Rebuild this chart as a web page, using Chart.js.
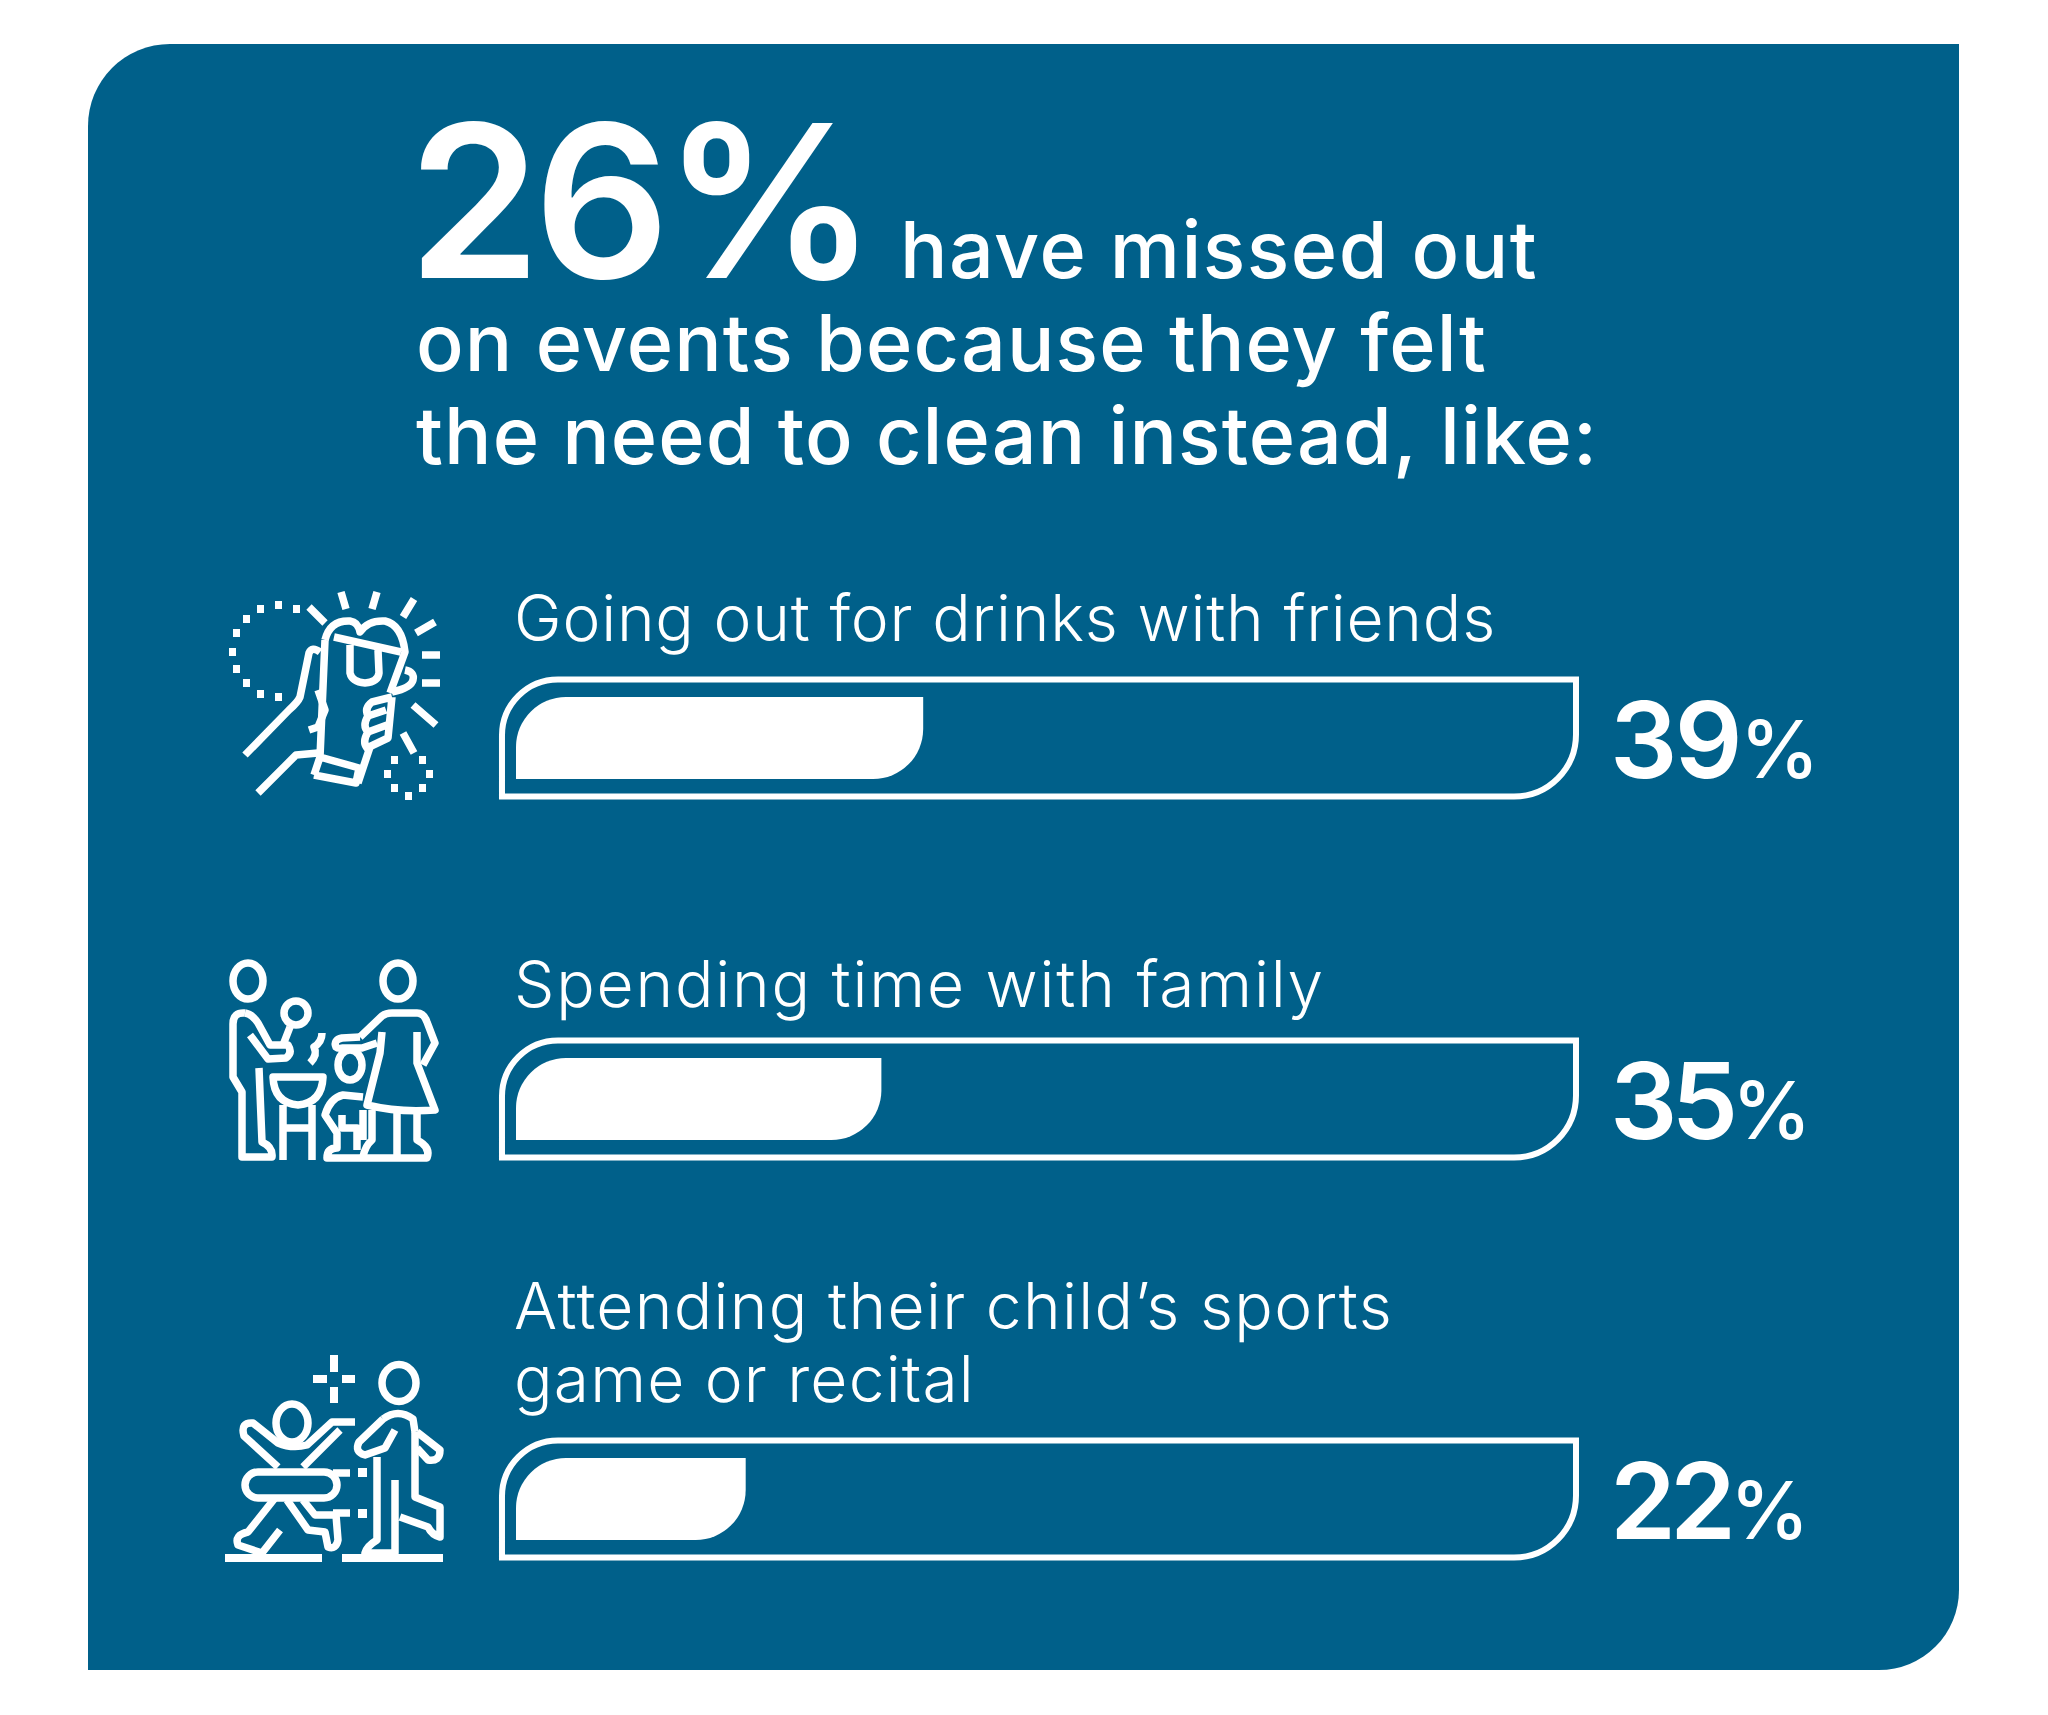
<!DOCTYPE html>
<html>
<head>
<meta charset="utf-8">
<title>Missed events</title>
<script src="https://cdn.jsdelivr.net/npm/chart.js@4"></script>
<style>
    html, body { margin: 0; background: #fff; }
    #page { position: relative; width: 2048px; height: 1715px; overflow: hidden; }
    #panel { position: absolute; left: 88px; top: 44px; width: 1871px; height: 1626px; background: #00608a; border-radius: 82px 0 80px 0; }
    #chart, #icons { position: absolute; left: 0; top: 0; }
    #icons { fill: none; stroke: #fff; stroke-width: 7.5; stroke-linejoin: round; stroke-linecap: butt; }
    #icons .dot { fill: #fff; stroke: none; }
</style>
</head>
<body>
<div id="page">
    <div id="panel"></div>
    <canvas id="chart" width="2048" height="1715"></canvas>

    <!-- Иконки слева от строк -->
    <svg id="icons" width="2048" height="1715" viewBox="0 0 2048 1715">
        <!-- кружка -->
        <g>
            <path d="M309 607L325 623M341 592L346 609M377 592L372 609M414 599L403 617M435 622L416 633M440 655L422 655M440 683L422 683M413 705L436 725M403 733L414 753"/>
            <path d="M325 640Q330 620 350 621Q358 622 360 632Q368 620 385 621Q402 625 405 652L390 693"/>
            <path d="M334 637L401 652M350 645L350 673Q352 682 365 683Q378 682 379 673L378 650"/>
            <path d="M325 640L320 757M314 775L320 757L359 768L356 783L314 775M370 747L358 783"/>
            <path d="M405 670Q415 672 413 680Q411 688 392 692"/>
            <path d="M392 697L372 702Q364 708 368 716L386 710M368 716Q362 726 368 732L387 725M368 732Q362 742 367 748L388 738L392 697"/>
            <path d="M245 755L289 710Q298 702 300 697L309 653Q312 646 320 652M318 690L325 710L318 727L309 730"/>
            <path d="M258 793L296 755L318 753"/>
            <g class="dot">
                <rect x="275" y="601" width="7" height="8"/><rect x="257" y="605" width="7" height="8"/><rect x="293" y="605" width="7" height="8"/>
                <rect x="243" y="615" width="7" height="8"/><rect x="233" y="629" width="7" height="8"/><rect x="229" y="648" width="7" height="8"/>
                <rect x="233" y="665" width="7" height="8"/><rect x="243" y="679" width="7" height="8"/><rect x="257" y="690" width="7" height="8"/>
                <rect x="275" y="693" width="7" height="8"/>
                <rect x="391" y="756" width="7" height="8"/><rect x="419" y="756" width="7" height="8"/><rect x="384" y="770" width="7" height="8"/>
                <rect x="426" y="770" width="7" height="8"/><rect x="391" y="784" width="7" height="8"/><rect x="419" y="784" width="7" height="8"/>
                <rect x="405" y="792" width="7" height="8"/>
            </g>
        </g>
        <!-- семья у гриля -->
        <g>
            <ellipse cx="248" cy="981" rx="15" ry="18"/>
            <path d="M245 1013Q233 1012 233 1024L233 1077L242 1092L242 1157L272 1157Q273 1147 262 1142L259 1068"/>
            <path d="M245 1013Q252 1014 258 1023L270 1045L288 1045Q293 1053 286 1058L268 1059L250 1035"/>
            <circle cx="296" cy="1013" r="12"/>
            <path d="M290 1027L283 1045M322 1033Q322 1042 314 1047Q318 1055 310 1063"/>
            <path d="M273 1077L323 1077Q322 1103 298 1105Q274 1103 273 1077ZM283 1105L283 1160M312 1105L312 1160M283 1128L312 1128"/>
            <ellipse cx="398" cy="981" rx="15" ry="18"/>
            <path d="M360 1037L382 1016Q386 1013 392 1013L417 1013Q424 1013 427 1022L435 1043L423 1065"/>
            <path d="M417 1032L417 1063L435 1110Q400 1113 367 1105L380 1053L382 1032"/>
            <path d="M360 1037L342 1038Q333 1040 336 1047Q338 1049 343 1048L362 1048L377 1043"/>
            <ellipse cx="350" cy="1065" rx="12" ry="15"/>
            <path d="M363 1097L343 1095Q330 1098 325 1115L337 1133L337 1148Q327 1148 327 1158L427 1158Q431 1147 417 1140L417 1110"/>
            <path d="M397 1113L397 1158M372 1110L372 1140Q365 1146 363 1157M363 1110L363 1140M342 1115L342 1128L357 1128L357 1150"/>
        </g>
        <!-- ребёнок и взрослый -->
        <g>
            <path style="stroke-width:8" d="M334 1355L334 1372M334 1387L334 1403M313 1379L327 1379M342 1379L355 1379M225 1558L322 1558M342 1558L443 1558"/>
            <ellipse cx="399" cy="1383" rx="17" ry="18.5"/>
            <path d="M377 1457L377 1540Q367 1546 365 1553L395 1553L395 1480M415 1432L415 1497L440 1507L440 1537Q432 1535 428 1527L400 1517"/>
            <path d="M383 1419Q398 1408 413 1419L415 1432M383 1419L359 1442Q354 1452 365 1455L385 1448L395 1430"/>
            <path d="M417 1432L440 1450Q440 1462 428 1460L417 1448"/>
            <ellipse cx="292" cy="1423" rx="16" ry="19"/>
            <path d="M278 1467L244 1436Q240 1422 253 1423L278 1443Q292 1449 307 1445L332 1422L355 1422M303 1467L340 1430"/>
            <rect x="245" y="1472" width="92" height="26" rx="13"/>
            <path d="M333 1473L350 1473M333 1513L350 1513"/>
            <path d="M275 1498L248 1532Q234 1535 238 1545L262 1553L280 1530"/>
            <path d="M287 1500L308 1530L325 1532L328 1547Q336 1550 338 1540L336 1515L315 1515L303 1500"/>
            <g class="dot"><rect x="358" y="1468" width="9" height="9"/><rect x="358" y="1509" width="9" height="9"/></g>
        </g>
    </svg>
</div>

<script>
// Данные графика
const categories = [
    ['Going out for drinks with friends'],
    ['Spending time with family'],
    ['Attending their child’s sports', 'game or recital']
];
const percentValues = [39, 35, 22];
const headlineValue = '26%';
const headlineLines = ['have missed out', 'on events because they felt', 'the need to clean instead, like:'];

// Настройки: отступы строк и рамка дорожки в единицах шкалы
const rowOffsets = [0, 361, 761];
const trackStart = -1.63;
const trackEnd = 101.82;
const fontFamily = 'Inter, "Noto Sans", sans-serif';

// Подгоняем ширину текста через межбуквенный интервал
function putText(ctx, text, x, y, font, width) {
    ctx.font = font;
    ctx.letterSpacing = '0px';
    if (width) {
        ctx.letterSpacing = ((width - ctx.measureText(text).width) / text.length).toFixed(3) + 'px';
    }
    ctx.fillText(text, x, y);
    const w = ctx.measureText(text).width;
    ctx.letterSpacing = '0px';
    return w;
}

// Штатный бар режет радиус до половины высоты, поэтому контур строим сами по позициям элементов
const barShapePlugin = {
    id: 'barShapePlugin',
    beforeDatasetDraw(chart, args) {
        const ctx = chart.ctx;
        args.meta.data.forEach(bar => {
            const { x, y, base, height } = bar.getProps(['x', 'y', 'base', 'height'], true);
            const o = bar.options;
            const r = o.borderRadius;
            const inset = o.borderWidth / 2;
            ctx.beginPath();
            ctx.roundRect(
                Math.min(x, base) + inset, y - height / 2 + inset,
                Math.abs(x - base) - inset * 2, height - inset * 2,
                [r.topLeft, r.topRight, r.bottomRight, r.bottomLeft]
            );
            ctx.fillStyle = o.backgroundColor;
            ctx.fill();
            if (o.borderWidth) {
                ctx.lineWidth = o.borderWidth;
                ctx.strokeStyle = o.borderColor;
                ctx.stroke();
            }
        });
        return false;
    }
};

const textPlugin = {
    id: 'textPlugin',
    afterDatasetsDraw(chart) {
        const ctx = chart.ctx;
        ctx.save();
        ctx.fillStyle = '#fff';
        ctx.textBaseline = 'alphabetic';
        ctx.textAlign = 'left';

        // Заголовок
        putText(ctx, headlineValue, 408, 278, `600 213px ${fontFamily}`, 462);
        putText(ctx, headlineLines[0], 900, 278, `500 79px ${fontFamily}`, 638);
        putText(ctx, headlineLines[1], 416, 371, `500 79px ${fontFamily}`, 1071);
        putText(ctx, headlineLines[2], 416, 464, `500 79px ${fontFamily}`, 1182);

        // Подписи строк и проценты
        const bars = chart.getDatasetMeta(0).data;
        const labelWidths = [[982], [811], [879, 461]];
        const labelShift = [-97, -92, -97];
        const digitWidths = [130, 122, 120];
        bars.forEach((bar, i) => {
            const lines = categories[i];
            lines.forEach((line, j) => {
                const base = bar.y + labelShift[i] - (lines.length - 1 - j) * 73;
                putText(ctx, line, 514, base, `300 64px ${fontFamily}`, labelWidths[i][j]);
            });
            const w = putText(ctx, String(percentValues[i]), 1610, bar.y + 40, `600 106px ${fontFamily}`, digitWidths[i]);
            putText(ctx, '%', 1610 + w, bar.y + 40, `500 80px ${fontFamily}`);
        });
        ctx.restore();
    }
};

new Chart(document.getElementById('chart').getContext('2d'), {
    type: 'bar',
    data: {
        datasets: [
            {
                label: 'Share',
                data: percentValues.map((v, i) => ({ x: v, y: rowOffsets[i] })),
                backgroundColor: '#fff',
                borderWidth: 0,
                borderSkipped: false,
                inflateAmount: 0,
                barThickness: 82,
                borderRadius: { topLeft: 50, topRight: 0, bottomRight: 50, bottomLeft: 0 }
            },
            {
                label: 'Track',
                data: percentValues.map((v, i) => ({ x: [trackStart, trackEnd], y: rowOffsets[i] })),
                backgroundColor: '#00608a',
                borderColor: '#fff',
                borderWidth: 6,
                borderSkipped: false,
                inflateAmount: 0,
                barThickness: 123,
                clip: false,
                borderRadius: { topLeft: 56, topRight: 0, bottomRight: 62, bottomLeft: 0 }
            }
        ]
    },
    plugins: [barShapePlugin, textPlugin],
    options: {
        indexAxis: 'y',
        responsive: false,
        animation: false,
        grouped: false,
        devicePixelRatio: 1,
        layout: { padding: { left: 516, right: 488, top: 558, bottom: 37 } },
        scales: {
            x: { type: 'linear', min: 0, max: 100, display: false },
            y: { type: 'linear', offset: false, min: -180, max: 940, reverse: true, display: false }
        },
        plugins: { legend: { display: false }, tooltip: { enabled: false } }
    }
});
</script>
</body>
</html>
